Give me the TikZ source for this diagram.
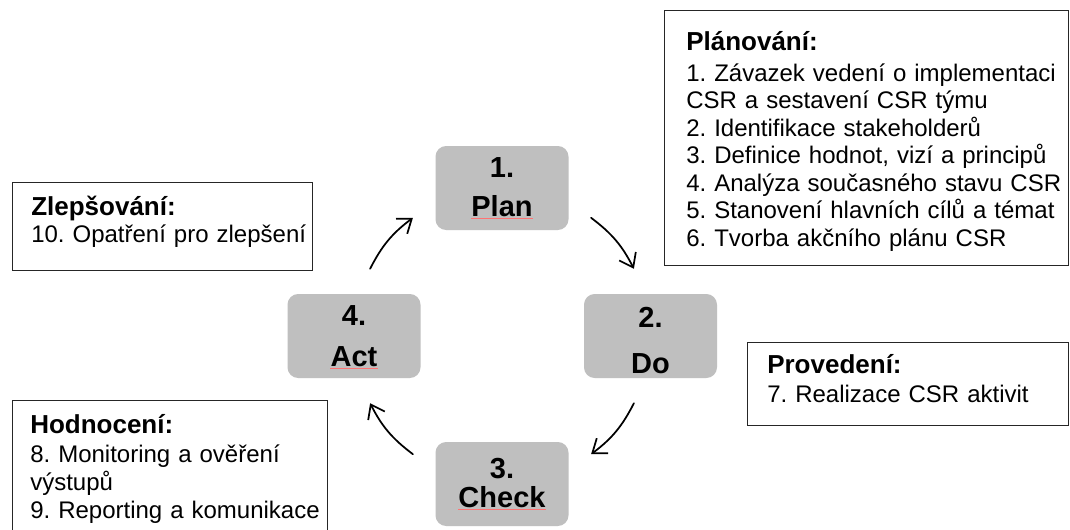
\documentclass[tikz,border=0pt]{standalone}
\usepackage{fontspec}
\setmainfont{Liberation Sans}
\usetikzlibrary{arrows.meta}
\definecolor{boxgray}{RGB}{191,191,191}
\frenchspacing
\begin{document}
\begin{tikzpicture}[x=0.75pt,y=-0.75pt,
  stage/.style={fill=boxgray, rounded corners=8pt, minimum width=99.75pt, minimum height=63pt, inner sep=0pt},
  stagetxt/.style={font=\fontsize{21.75pt}{26pt}\selectfont\bfseries, inner sep=0pt, anchor=base},
  infobox/.style={draw=black!85, line width=0.8pt, anchor=north west, inner sep=0pt},
  infotxt/.style={font=\fontsize{18pt}{21pt}\selectfont\frenchspacing, inner sep=0pt, anchor=base west, align=left, text width=295pt},
  cyc/.style={line width=1.3pt, line cap=round, -{Straight Barb[length=9.5pt,width=14pt,line width=1.3pt]}},
  spell/.style={draw=red!55, line width=0.6pt}
]
\newcommand{\hd}[1]{{\fontsize{19.5pt}{21pt}\selectfont\bfseries #1}}
\fill[white] (0,0) rectangle (1070,529);
\useasboundingbox (0,0) rectangle (1070,529);

% stage boxes
\node[stage] (plan) at (502,188) {};
\node[stage] (do) at (650.5,336) {};
\node[stage] (check) at (502,484) {};
\node[stage] (act) at (354,336) {};

\node[stagetxt] (plan-n) at (502,177) {1.};
\node[stagetxt] (plan-w) at (502,216) {Plan};
\node[stagetxt] (do-n) at (650.5,327) {2.};
\node[stagetxt] (do-w) at (650.5,373) {Do};
\node[stagetxt] (check-n) at (502,478) {3.};
\node[stagetxt] (check-w) at (502,507) {Check};
\node[stagetxt] (act-n) at (354,325) {4.};
\node[stagetxt] (act-w) at (354,366) {Act};

\draw[spell] ([yshift=-2pt]plan-w.base west) -- ([yshift=-2pt]plan-w.base east);
\draw[spell] ([yshift=-2pt]check-w.base west) -- ([yshift=-2pt]check-w.base east);
\draw[spell] ([yshift=-2pt]act-w.base west) -- ([yshift=-2pt]act-w.base east);

% cycle arrows
\coordinate (a1s) at (591.1,217.8);
\coordinate (a1e) at (633.9,268.8);
\coordinate (a2s) at (633.9,403.2);
\coordinate (a2e) at (591.1,454.2);
\coordinate (a3s) at (412.9,454.2);
\coordinate (a3e) at (370.1,403.2);
\coordinate (a4s) at (370.1,268.8);
\coordinate (a4e) at (412.9,217.8);
\draw[cyc] (a1s) to[bend left=13] (a1e);
\draw[cyc] (a2s) to[bend left=13] (a2e);
\draw[cyc] (a3s) to[bend left=13] (a3e);
\draw[cyc] (a4s) to[bend left=13] (a4e);

% info boxes
\node[infobox, minimum width=303pt, minimum height=191.25pt] (planbox) at (664,10) {};
\node[infotxt, font=\fontsize{18pt}{20.6pt}\selectfont\frenchspacing] (plantext) at (686,50) {\hd{Plánování:}\\[3pt]
1. Závazek vedení o implementaci\\
CSR a sestavení CSR týmu\\
2. Identifikace stakeholderů\\
3. Definice hodnot, vizí a principů\\
4. Analýza současného stavu CSR\\
5. Stanovení hlavních cílů a témat\\
6. Tvorba akčního plánu CSR};

\node[infobox, minimum width=225pt, minimum height=66pt] (zlepbox) at (12,182) {};
\node[infotxt] (zleptext) at (31,215) {\hd{Zlepšování:}\\[-0.75pt]
10. Opatření pro zlepšení};

\node[infobox, minimum width=236.25pt, minimum height=102pt] (hodbox) at (12,400) {};
\node[infotxt] (hodtext) at (30,433) {\hd{Hodnocení:}\\[0.75pt]
8. Monitoring a ověření\\
výstupů\\
9. Reporting a komunikace};

\node[infobox, minimum width=240.75pt, minimum height=62.25pt] (provbox) at (747,342) {};
\node[infotxt] (provtext) at (767,373) {\hd{Provedení:}\\[0.75pt]
7. Realizace CSR aktivit};
\end{tikzpicture}
\end{document}
